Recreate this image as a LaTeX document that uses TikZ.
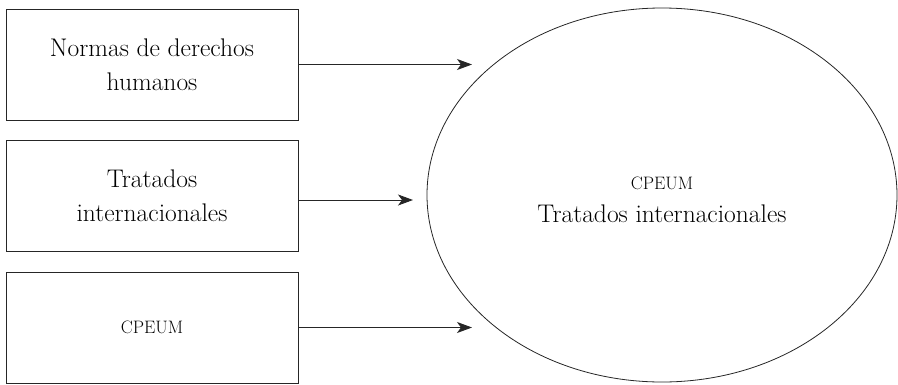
\documentclass[tikz,border=0pt]{standalone}
\usetikzlibrary{positioning,shapes.geometric,arrows.meta}
\begin{document}
\begin{tikzpicture}[x=1pt,y=-1pt,
    caja/.style={draw=black!85,line width=0.9pt,minimum width=292pt,minimum height=111pt,inner sep=0pt,align=center,font=\fontsize{25.5}{34}\selectfont},
    circulo/.style={ellipse,draw=black!85,line width=0.8pt,minimum width=470pt,minimum height=374pt,inner sep=0pt},
    texto/.style={align=center,font=\fontsize{25.5}{34}\selectfont},
    flecha/.style={draw=black!85,line width=0.9pt,-{Stealth[length=15pt,width=11pt,inset=4pt]}}]
  \useasboundingbox (0,0) rectangle (898,384);
  \node[caja] (normas) at (152,64.5) {Normas de derechos\\humanos};
  \node[caja,below=19.6pt of normas] (tratados) {Tratados\\internacionales};
  \node[caja,below=19.6pt of tratados] (cpeum) {\fontsize{18}{20}\selectfont CPEUM};
  \node[circulo] (centro) at (662,195) {};
  \node[texto] (lema) at (662,200) {{\fontsize{18}{20}\selectfont CPEUM}\\[-1pt]Tratados internacionales};
  % extremos de las flechas
  \coordinate (fin1) at (472,63.5);
  \coordinate (fin2) at (413,200);
  \coordinate (fin3) at (472,326.5);
  \draw[flecha] (normas.east) -- (normas.east -| fin1);
  \draw[flecha] (tratados.east |- fin2) -- (fin2);
  \draw[flecha] (cpeum.east) -- (cpeum.east -| fin3);
\end{tikzpicture}
\end{document}
